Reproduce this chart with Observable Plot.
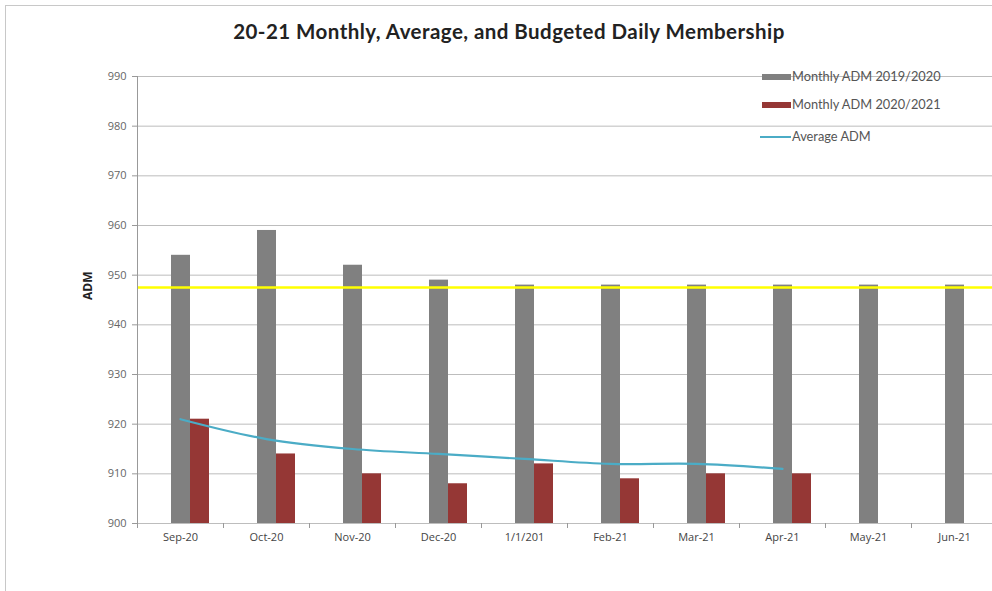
<!DOCTYPE html>
<html>
<head>
<meta charset="utf-8">
<script src="https://cdn.jsdelivr.net/npm/d3@7"></script>
<script src="https://cdn.jsdelivr.net/npm/@observablehq/plot@0.6"></script>
<style>
  html, body { margin: 0; padding: 0; background: #fff; overflow: hidden; }
  #wrap { position: relative; width: 992px; height: 591px; overflow: hidden; font-family: "Open Sans", "Liberation Sans", sans-serif; }
  #frame { position: absolute; left: 5px; top: 5px; width: 1000px; height: 600px; border-top: 1.5px solid #c8c8c8; border-left: 1.5px solid #c8c8c8; }
  #title { position: absolute; left: 0; top: 19px; width: 1018px; text-align: center; font-family: Lato, "Open Sans", sans-serif; font-weight: bold; font-size: 20.5px; letter-spacing: 0.45px; color: #222; }
  #chart { position: absolute; left: 0; top: 0; width: 1000px; }
  #chart svg { max-width: none !important; }
  .leg { position: absolute; font-size: 12.8px; color: #555; white-space: nowrap; font-family: Lato, "Open Sans", sans-serif; }
  .sw { position: absolute; }
</style>
</head>
<body>
<div id="wrap">
  <div id="frame"></div>
  <div id="chart"></div>
  <div id="title">20-21 Monthly, Average, and Budgeted Daily Membership</div>
  <div id="legend"></div>
</div>
<script>
const categories = ["Sep-20", "Oct-20", "Nov-20", "Dec-20", "1/1/201", "Feb-21", "Mar-21", "Apr-21", "May-21", "Jun-21"];
const adm1920 = [954, 959, 952, 949, 948, 948, 948, 948, 948, 948];
const adm2021 = [921, 914, 910, 908, 912, 909, 910, 910, null, null];
const avgAdm = [921, 917, 915, 914, 913, 912, 912, 911, null, null];
const budgeted = 947.5;
const yTicks = [900, 910, 920, 930, 940, 950, 960, 970, 980, 990];
const seriesNames = ["Monthly ADM 2019/2020", "Monthly ADM 2020/2021", "Average ADM"];
const colors = ["#808080", "#953735", "#4bacc6"];

const rows1920 = categories.map((c, i) => ({cat: c, v: adm1920[i]}));
const rows2021 = categories.map((c, i) => ({cat: c, v: adm2021[i]})).filter(d => d.v != null);
const rowsAvg = categories.map((c, i) => ({cat: c, v: avgAdm[i]})).filter(d => d.v != null);

const chart = Plot.plot({
  width: 997,
  height: 591,
  marginTop: 76,
  marginBottom: 68,
  marginLeft: 137,
  marginRight: 0,
  style: {fontFamily: "Open Sans, Liberation Sans, sans-serif", background: "transparent", maxWidth: "none"},
  x: {type: "band", domain: categories, padding: 0, label: null},
  y: {domain: [900, 990], label: null},
  marks: [
    Plot.ruleY(yTicks, {stroke: "#bdbdbd", strokeWidth: 1}),
    Plot.barY(rows1920, {x: "cat", y1: 900, y2: "v", fill: colors[0], insetLeft: 34, insetRight: 33}),
    Plot.barY(rows2021, {x: "cat", y1: 900, y2: "v", fill: colors[1], insetLeft: 53, insetRight: 14}),
    Plot.ruleY([budgeted], {stroke: "#ffff00", strokeWidth: 2.5}),
    Plot.line(rowsAvg, {x: "cat", y: "v", stroke: colors[2], strokeWidth: 2.2, curve: "catmull-rom"}),
    Plot.axisY({ticks: yTicks, tickSize: 5, tickPadding: 6, tickFormat: d => String(d), fontSize: 11, color: "#666", stroke: "#999"}),
    Plot.ruleX(categories, {x: d => d, dx: -43, stroke: "#999", insetTop: 447, insetBottom: -5}),
    Plot.axisX({tickSize: 0, tickPadding: 10, fontSize: 11, color: "#444"}),
    Plot.text(["ADM"], {frameAnchor: "left", dx: -49, rotate: -90, fontWeight: "bold", fontSize: 12, fill: "#222"})
  ]
});
const svg = d3.select(chart);
svg.append("line").attr("x1", 137.5).attr("x2", 137.5).attr("y1", 76).attr("y2", 523).attr("stroke", "#999");
document.getElementById("chart").appendChild(chart);

const legend = document.getElementById("legend");
const legendY = [77, 105, 137];
seriesNames.forEach((name, i) => {
  const sw = document.createElement("div");
  sw.className = "sw";
  if (i < 2) {
    sw.style.cssText = `left:762px;top:${legendY[i]-3}px;width:29px;height:6px;background:${colors[i]}`;
  } else {
    sw.style.cssText = `left:760px;top:${legendY[i]-1}px;width:31px;height:2px;background:${colors[i]}`;
  }
  legend.appendChild(sw);
  const t = document.createElement("div");
  t.className = "leg";
  t.style.left = "792px";
  t.style.top = (legendY[i] - 9) + "px";
  t.textContent = name;
  legend.appendChild(t);
});
</script>
</body>
</html>
